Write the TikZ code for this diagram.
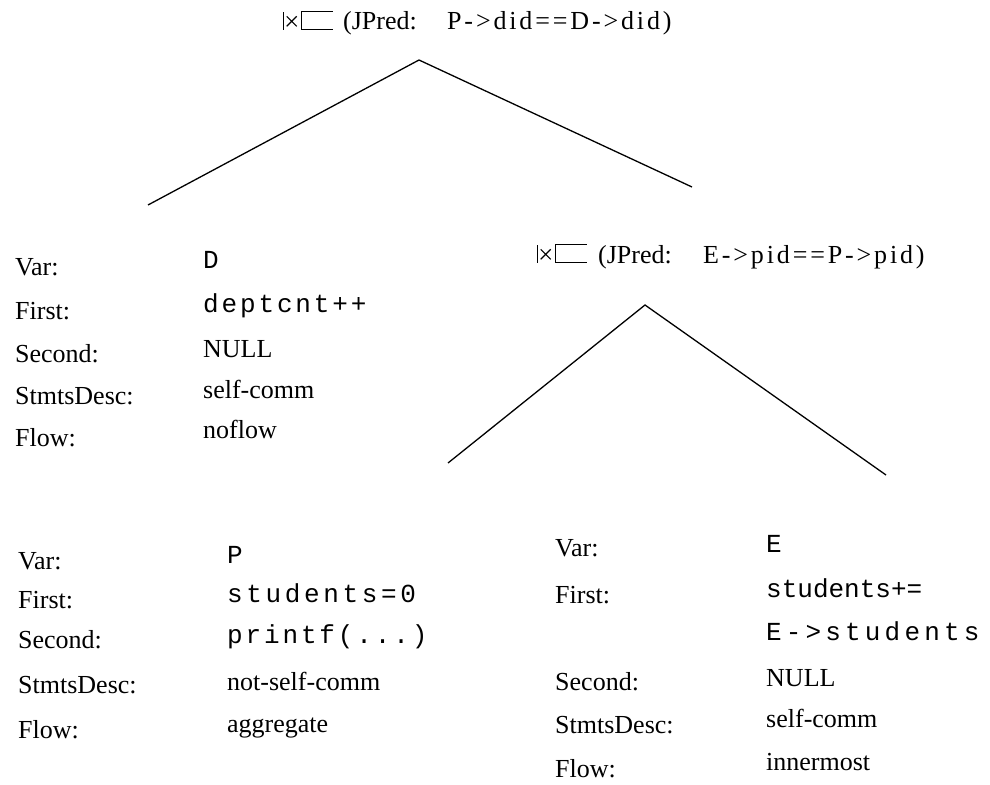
\documentclass[tikz,border=0pt]{standalone}
\usepackage{fontspec}
\setmainfont{Liberation Serif}
\newfontfamily\codefont{Liberation Mono}
\newfontfamily\predfont[LetterSpace=11]{Liberation Serif}
\newcommand\ojpt[2]{([shift={(#1pt,#2pt)}]path picture bounding box.south west)}
\begin{document}
\begin{tikzpicture}[x=1pt,y=-1pt,
  txt/.style={inner sep=0pt, anchor=base west, font=\fontsize{26}{30}\selectfont},
  code/.style={inner sep=0pt, anchor=base west, font=\fontsize{26}{30}\codefont},
  wide/.style={code, font=\fontsize{26}{30}\codefont\addfontfeature{LetterSpace=#1}},
  pred/.style={inner sep=0pt, anchor=base west, font=\fontsize{26}{30}\predfont},
  edge/.style={line width=1.3pt},
  joinsym/.style={inner sep=0pt, minimum width=54pt, minimum height=22pt, anchor=south west,
    path picture={
      \draw[line width=1.3pt] \ojpt{1.5}{1.5} -- \ojpt{1.5}{19.5};
      \draw[line width=1.1pt] \ojpt{5}{5} -- \ojpt{15}{15} \ojpt{5}{15} -- \ojpt{15}{5};
      \draw[line width=1.3pt] \ojpt{19.5}{1.5} -- \ojpt{19.5}{19.5};
      \draw[line width=1.3pt] \ojpt{19.5}{19.5} -- \ojpt{51.5}{19.5};
      \draw[line width=0.9pt] \ojpt{19.5}{1.5} -- \ojpt{51.5}{1.5};
    }}]
\useasboundingbox (0,0) rectangle (990,784);

% upper join
\node[joinsym] (j1sym) at (281.5,31.5) {};
\node[txt] (j1lab) at (343,30) {(JPred:};
\node[pred] (j1pred) at (447,30) {P->did==D->did)};
\coordinate (j1top) at (419,60);
\coordinate (j1left) at (148,205);
\coordinate (j1right) at (692,187);
\draw[edge] (j1left) -- (j1top) -- (j1right);

% scan D
\node[txt] (dvar) at (15,275) {Var:};
\node[txt] (dfirst) at (15,319) {First:};
\node[txt] (dsecond) at (15,362) {Second:};
\node[txt] (ddesc) at (15,404) {StmtsDesc:};
\node[txt] (dflow) at (15,446) {Flow:};
\node[code] (dvarv) at (203,268) {D};
\node[wide=11] (dfirstv) at (203,312) {deptcnt++};
\node[txt] (dsecondv) at (203,357) {NULL};
\node[txt] (ddescv) at (203,398) {self-comm};
\node[txt] (dflowv) at (203,438) {noflow};

% lower join
\node[joinsym] (j2sym) at (535.5,264.5) {};
\node[txt] (j2lab) at (598,263) {(JPred:};
\node[pred] (j2pred) at (703,263) {E->pid==P->pid)};
\coordinate (j2top) at (645,305);
\coordinate (j2left) at (448,463);
\coordinate (j2right) at (886,475);
\draw[edge] (j2left) -- (j2top) -- (j2right);

% scan P
\node[txt] (pvar) at (18,569) {Var:};
\node[txt] (pfirst) at (18,608) {First:};
\node[txt] (psecond) at (18,648) {Second:};
\node[txt] (pdesc) at (18,693) {StmtsDesc:};
\node[txt] (pflow) at (18,738) {Flow:};
\node[code] (pvarv) at (227,563) {P};
\node[wide=14] (pfirstv) at (227,602) {students=0};
\node[wide=11] (psecondv) at (227,643) {printf(...)};
\node[txt] (pdescv) at (227,690) {not-self-comm};
\node[txt] (pflowv) at (227,732) {aggregate};

% scan E
\node[txt] (evar) at (555,556) {Var:};
\node[txt] (efirst) at (555,603) {First:};
\node[txt] (esecond) at (555,690) {Second:};
\node[txt] (edesc) at (555,733) {StmtsDesc:};
\node[txt] (eflow) at (555,777) {Flow:};
\node[code] (evarv) at (766,552) {E};
\node[code] (efirstv) at (766,597) {students+=};
\node[wide=16] (efirstv2) at (766,640) {E->students};
\node[txt] (esecondv) at (766,686) {NULL};
\node[txt] (edescv) at (766,727) {self-comm};
\node[txt] (eflowv) at (766,770) {innermost};
\end{tikzpicture}
\end{document}
